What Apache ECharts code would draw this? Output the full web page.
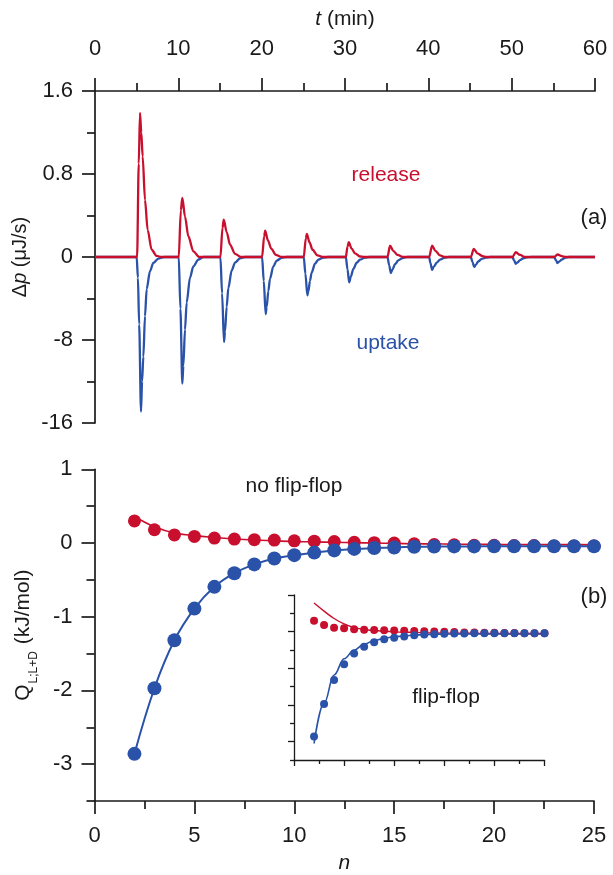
<!DOCTYPE html>
<html><head><meta charset="utf-8">
<script src="https://cdn.jsdelivr.net/npm/echarts@6/dist/echarts.min.js"></script>
<style>html,body{margin:0;padding:0;background:#fff}#c{width:613px;height:875px}</style>
</head><body><div id="c"></div>
<script>
// ---------- Panel (a): calorimetric traces, t (min) vs Δp (μJ/s) ----------
// release (positive, read on the 0..1.6 scale)
const releaseTrace = [
  [0,0],[5.05,0],[5.25,0.9],[5.4,1.39],[5.55,1.2],[5.72,0.97],[6.0,0.55],[6.32,0.26],[6.8,0.07],[7.4,0.01],[8,0],
  [10.05,0],[10.3,0.45],[10.48,0.57],[10.8,0.39],[11.2,0.2],[11.8,0.055],[12.5,0],
  [15.05,0],[15.3,0.28],[15.45,0.36],[15.8,0.24],[16.2,0.12],[16.8,0.03],[17.5,0],
  [20.05,0],[20.3,0.2],[20.42,0.255],[20.75,0.16],[21.15,0.08],[21.7,0.02],[22.4,0],
  [25.05,0],[25.3,0.18],[25.42,0.223],[25.75,0.14],[26.1,0.07],[26.7,0.015],[27.4,0],
  [30.1,0],[30.3,0.1],[30.45,0.142],[30.8,0.08],[31.2,0.035],[31.8,0.005],[32.3,0],
  [35.1,0],[35.4,0.11],[35.8,0.06],[36.3,0.02],[37,0],
  [40.1,0],[40.45,0.11],[40.85,0.06],[41.4,0.015],[42,0],
  [45.1,0],[45.45,0.077],[45.9,0.035],[46.5,0.008],[47,0],
  [50.1,0],[50.5,0.046],[51.0,0.02],[51.6,0],
  [55.1,0],[55.5,0.024],[56.0,0.008],[56.5,0],
  [60,0]
];
// uptake (negative, read on the 0..-16 scale)
const uptakeTrace = [
  [0,0],[5.0,0],[5.15,-2],[5.3,-6.5],[5.52,-14.9],[5.65,-12],[5.8,-9.6],[6.0,-5.7],[6.2,-3.1],[6.6,-1.37],[7.0,-0.56],[7.6,-0.15],[8.3,0],
  [10.05,0],[10.25,-5],[10.48,-12.2],[10.6,-10.5],[10.8,-7.0],[11.0,-4.4],[11.4,-2.0],[11.8,-0.9],[12.4,-0.25],[13,0],
  [15.05,0],[15.25,-3.5],[15.48,-8.2],[15.6,-7.2],[15.8,-4.8],[16.0,-3.0],[16.4,-1.3],[16.8,-0.55],[17.4,-0.12],[18,0],
  [20.05,0],[20.25,-2.3],[20.48,-5.5],[20.6,-4.8],[20.8,-3.3],[21.0,-2.1],[21.4,-0.9],[21.8,-0.35],[22.4,-0.08],[23,0],
  [25.05,0],[25.25,-1.6],[25.48,-3.7],[25.6,-3.3],[25.8,-2.3],[26.0,-1.5],[26.4,-0.65],[26.8,-0.25],[27.4,-0.05],[28,0],
  [30.1,0],[30.3,-1.2],[30.5,-2.44],[30.7,-1.9],[31.0,-1.15],[31.4,-0.55],[31.8,-0.26],[32.4,-0.05],[33,0],
  [35.1,0],[35.3,-0.8],[35.5,-1.55],[35.7,-1.2],[36.0,-0.7],[36.4,-0.33],[36.9,-0.1],[37.5,0],
  [40.1,0],[40.25,-0.6],[40.45,-1.23],[40.65,-0.95],[41.0,-0.55],[41.4,-0.25],[41.9,-0.07],[42.5,0],
  [45.1,0],[45.3,-0.5],[45.5,-0.95],[45.7,-0.75],[46.0,-0.42],[46.4,-0.18],[46.9,-0.05],[47.5,0],
  [50.1,0],[50.3,-0.35],[50.5,-0.66],[50.7,-0.52],[51.0,-0.3],[51.4,-0.12],[51.9,-0.03],[52.4,0],
  [55.1,0],[55.3,-0.3],[55.5,-0.58],[55.7,-0.45],[56.0,-0.25],[56.4,-0.08],[56.9,0],
  [60,0]
];
const posScale = 10;                  // positive half of the broken axis is 10x expanded
const yTicksA = [-16, -8, 0, 8, 16];  // axis positions
const yTickLabelsA = ['-16', '-8', '0', '0.8', '1.6'];

// ---------- Panel (b): Q_L;L+D (kJ/mol) vs n ----------
const nValues = [2,3,4,5,6,7,8,9,10,11,12,13,14,15,16,17,18,19,20,21,22,23,24,25];
const releaseQ = [0.30,0.18,0.11,0.09,0.067,0.054,0.045,0.04,0.03,0.025,0.02,0.01,0.005,0.0,-0.01,-0.02,-0.025,-0.03,-0.03,-0.035,-0.035,-0.04,-0.04,-0.04];
const uptakeQ  = [-2.86,-1.97,-1.32,-0.89,-0.595,-0.41,-0.29,-0.21,-0.165,-0.13,-0.10,-0.08,-0.068,-0.06,-0.05,-0.047,-0.046,-0.046,-0.045,-0.045,-0.045,-0.045,-0.045,-0.045];
// model curves, no flip-flop (main plot)
const releaseFitNoFF = [0.36,0.22,0.135,0.10,0.075,0.055,0.04,0.03,0.02,0.015,0.01,0.005,0.0,-0.005,-0.01,-0.012,-0.015,-0.017,-0.018,-0.02,-0.02,-0.022,-0.022,-0.023];
const uptakeFitNoFF  = [-2.86,-1.97,-1.32,-0.89,-0.595,-0.41,-0.29,-0.21,-0.165,-0.13,-0.10,-0.08,-0.068,-0.06,-0.052,-0.048,-0.046,-0.046,-0.045,-0.045,-0.045,-0.045,-0.045,-0.045];
// model curves, flip-flop (inset)
const releaseFitFF = [0.78,0.56,0.36,0.21,0.11,0.06,0.03,0.01,-0.005,-0.015,-0.02,-0.03,-0.035,-0.04,-0.04,-0.045,-0.045,-0.05,-0.05,-0.05,-0.05,-0.05,-0.05,-0.05];
const uptakeFitFF  = [-3.05,-1.95,-1.18,-0.74,-0.50,-0.34,-0.245,-0.18,-0.14,-0.115,-0.095,-0.08,-0.07,-0.065,-0.06,-0.06,-0.06,-0.06,-0.06,-0.06,-0.06,-0.06,-0.06,-0.06];
const qMajorTicks = [-3,-2,-1,0,1];
const qMinorTicks = [-3.5,-2.5,-1.5,-0.5,0.5];

const RED = '#c8102e', BLUE = '#2a52a8', INK = '#1a1a1a';
const FONT = "'Liberation Sans', Arial, sans-serif";
const axLine = {show:true, onZero:false, lineStyle:{color:INK, width:1.7}};
const tickStyle = {color:INK, width:1.7};
const lab = (m) => ({fontSize:22, color:INK, fontFamily:FONT, margin:m});

const pair = (xs, ys) => xs.map((x,i)=>[x, ys[i]]);

const chart = echarts.init(document.getElementById('c'), null, {renderer:'canvas'});
chart.setOption({
  animation:false,
  textStyle:{fontFamily:FONT},
  grid:[
    {left:95, top:91, width:500, height:332},
    {left:94.5, top:469.3, width:499.5, height:333.4},
    {left:294, top:595, width:250.5, height:165}
  ],
  xAxis:[
    {gridIndex:0, type:'value', position:'top', min:0, max:60, interval:10,
     axisLine:axLine, axisTick:{length:13, lineStyle:tickStyle},
     minorTick:{show:true, splitNumber:2, length:8, lineStyle:tickStyle},
     axisLabel:lab(31), splitLine:{show:false},
     name:'{i|t} (min)', nameLocation:'middle', nameGap:61,
     nameTextStyle:{fontSize:21, color:INK, fontFamily:FONT, rich:{i:{fontStyle:'italic', fontSize:21, fontFamily:FONT}}}},
    {gridIndex:1, type:'value', position:'bottom', min:0, max:25, interval:5,
     axisLine:axLine, axisTick:{length:13, lineStyle:tickStyle},
     minorTick:{show:true, splitNumber:2, length:8, lineStyle:tickStyle},
     axisLabel:lab(24), splitLine:{show:false},
     name:'{i|n}', nameLocation:'middle', nameGap:52,
     nameTextStyle:{fontSize:21, color:INK, fontFamily:FONT, rich:{i:{fontStyle:'italic', fontSize:21, fontFamily:FONT}}}},
    {gridIndex:2, type:'value', position:'bottom', min:0, max:25, interval:5,
     axisLine:{show:true, onZero:false, lineStyle:{color:INK, width:1.3}},
     axisTick:{length:6, lineStyle:{color:INK, width:1.3}},
     minorTick:{show:true, splitNumber:2, length:4, lineStyle:{color:INK, width:1.3}},
     axisLabel:{show:false}, splitLine:{show:false}}
  ],
  yAxis:[
    {gridIndex:0, type:'value', min:-16, max:16, interval:8,
     axisLine:axLine, axisTick:{length:13, lineStyle:tickStyle},
     minorTick:{show:true, splitNumber:2, length:8, lineStyle:tickStyle},
     axisLabel:Object.assign(lab(22), {formatter:(v)=>{const k=yTicksA.indexOf(v); return k>=0?yTickLabelsA[k]:'';}}),
     splitLine:{show:false},
     name:'Δ{i|p} (μJ/s)', nameLocation:'middle', nameGap:61,
     nameTextStyle:{fontSize:20, color:INK, fontFamily:FONT, rich:{i:{fontStyle:'italic', fontSize:20, fontFamily:FONT}}}},
    {gridIndex:1, type:'value', position:'left', min:-3.5, max:1,
     axisLine:axLine, axisTick:{length:13, lineStyle:tickStyle, customValues:qMajorTicks},
     axisLabel:Object.assign(lab(22), {customValues:qMajorTicks}),
     splitLine:{show:false},
     name:'{q|Q}{s|L;L+D}{q| (kJ/mol)}', nameLocation:'middle', nameGap:58,
     nameTextStyle:{color:INK, fontFamily:FONT, rich:{
       q:{fontSize:21, fontFamily:FONT, color:INK, verticalAlign:'top', lineHeight:24},
       s:{fontSize:12, fontFamily:FONT, color:INK, verticalAlign:'top', lineHeight:12, padding:[15,1,0,1]}}}},
    {gridIndex:1, type:'value', position:'left', min:-3.5, max:1,
     axisLine:{show:false}, axisTick:{length:8, lineStyle:tickStyle, customValues:qMinorTicks},
     axisLabel:{show:false}, splitLine:{show:false}},
    {gridIndex:2, type:'value', position:'left', min:-3.5, max:1,
     axisLine:{show:true, onZero:false, lineStyle:{color:INK, width:1.3}},
     axisTick:{length:6, lineStyle:{color:INK, width:1.3}, customValues:qMajorTicks},
     axisLabel:{show:false}, splitLine:{show:false}},
    {gridIndex:2, type:'value', position:'left', min:-3.5, max:1,
     axisLine:{show:false}, axisTick:{length:4, lineStyle:{color:INK, width:1.3}, customValues:qMinorTicks},
     axisLabel:{show:false}, splitLine:{show:false}}
  ],
  series:[
    {name:'uptake', type:'line', xAxisIndex:0, yAxisIndex:0, showSymbol:false, smooth:0.3, smoothMonotone:'x',
     data:uptakeTrace, lineStyle:{color:BLUE, width:2.3}, itemStyle:{color:BLUE}, z:3},
    {name:'release', type:'line', xAxisIndex:0, yAxisIndex:0, showSymbol:false, smooth:0.3, smoothMonotone:'x',
     data:releaseTrace.map(([t,v])=>[t, v*posScale]), lineStyle:{color:RED, width:2.3}, itemStyle:{color:RED}, z:4},

    {type:'line', xAxisIndex:1, yAxisIndex:1, showSymbol:false, smooth:0.4,
     data:pair(nValues, releaseFitNoFF), lineStyle:{color:RED, width:1.6}, z:3},
    {type:'line', xAxisIndex:1, yAxisIndex:1, showSymbol:false, smooth:0.4,
     data:pair(nValues, uptakeFitNoFF), lineStyle:{color:BLUE, width:2}, z:3},
    {type:'scatter', xAxisIndex:1, yAxisIndex:1, symbolSize:13,
     data:pair(nValues, releaseQ), itemStyle:{color:RED, opacity:1}, z:4},
    {type:'scatter', xAxisIndex:1, yAxisIndex:1, symbolSize:14,
     data:pair(nValues, uptakeQ), itemStyle:{color:BLUE, opacity:1}, z:5},

    {type:'line', xAxisIndex:2, yAxisIndex:3, showSymbol:false, smooth:0.4,
     data:pair(nValues, releaseFitFF), lineStyle:{color:RED, width:1.4}, z:3},
    {type:'line', xAxisIndex:2, yAxisIndex:3, showSymbol:false, smooth:0.4, smoothMonotone:'x',
     data:pair(nValues, uptakeFitFF), lineStyle:{color:BLUE, width:1.6}, z:3},
    {type:'scatter', xAxisIndex:2, yAxisIndex:3, symbolSize:8,
     data:pair(nValues, releaseQ), itemStyle:{color:RED, opacity:1}, z:4},
    {type:'scatter', xAxisIndex:2, yAxisIndex:3, symbolSize:8,
     data:pair(nValues, uptakeQ), itemStyle:{color:BLUE, opacity:1}, z:5}
  ],
  graphic:[
    {type:'text', x:386, y:175, style:{text:'release', fill:RED, font:"21px 'Liberation Sans', Arial", textAlign:'center', textVerticalAlign:'middle'}},
    {type:'text', x:388, y:343, style:{text:'uptake', fill:BLUE, font:"21px 'Liberation Sans', Arial", textAlign:'center', textVerticalAlign:'middle'}},
    {type:'text', x:594, y:218, style:{text:'(a)', fill:INK, font:"22px 'Liberation Sans', Arial", textAlign:'center', textVerticalAlign:'middle'}},
    {type:'text', x:294, y:486, style:{text:'no flip-flop', fill:INK, font:"21px 'Liberation Sans', Arial", textAlign:'center', textVerticalAlign:'middle'}},
    {type:'text', x:594, y:597, style:{text:'(b)', fill:INK, font:"22px 'Liberation Sans', Arial", textAlign:'center', textVerticalAlign:'middle'}},
    {type:'text', x:446, y:697, style:{text:'flip-flop', fill:INK, font:"21px 'Liberation Sans', Arial", textAlign:'center', textVerticalAlign:'middle'}}
  ]
});
</script></body></html>
